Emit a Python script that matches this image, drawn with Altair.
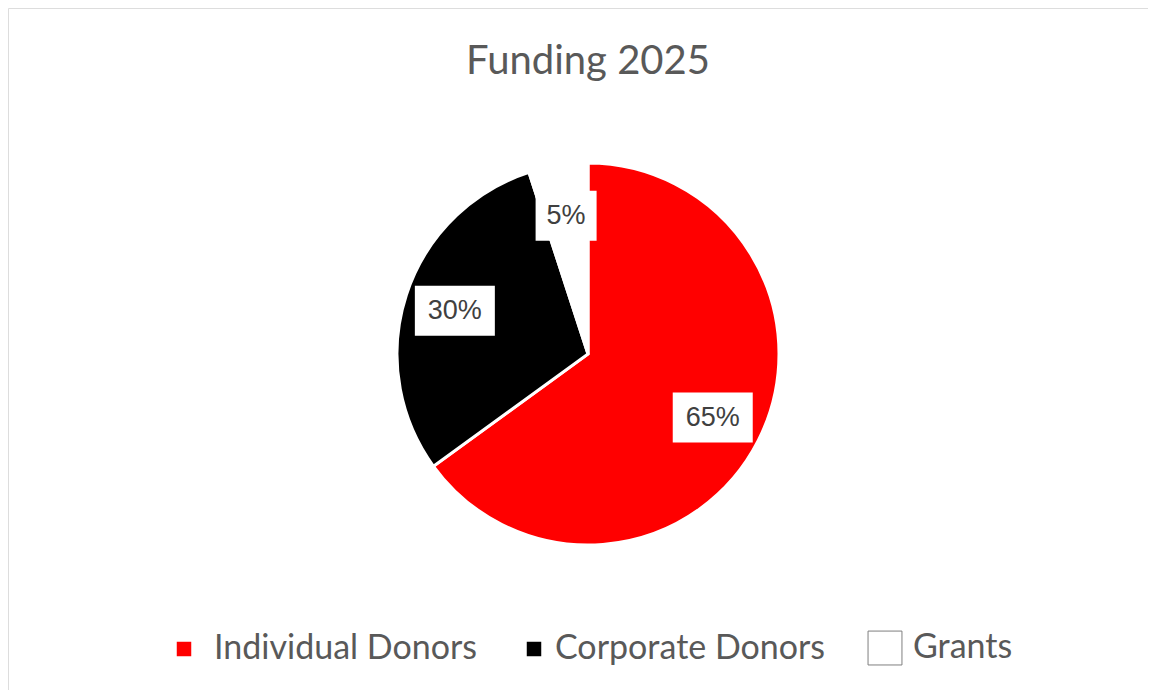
import altair as alt
import pandas as pd
import numpy as np

categories = ["Individual Donors", "Corporate Donors", "Grants"]
values = [65, 30, 5]
labels = ["65%", "30%", "5%"]
colors = ["#ff0000", "#000000", "#ffffff"]

# layout constants
W, H = 1140, 682
CX, CY, R = 580, 346, 191
LR = 140

df = pd.DataFrame({"category": categories, "value": values, "label": labels,
                   "order": list(range(len(categories)))})
total = df["value"].sum()
cum = df["value"].cumsum()
mid = (cum - df["value"] / 2) / total * 2 * np.pi
df["lx"] = CX + LR * np.sin(mid)
df["ly"] = CY - LR * np.cos(mid)
bw = 19 * df["label"].str.len() + 23
df["x1"] = df["lx"] - bw / 2
df["x2"] = df["lx"] + bw / 2
df["y1"] = df["ly"] - 25
df["y2"] = df["ly"] + 25


def build(extra):
    base = alt.Chart(df)
    leg = dict(title=None, orient="none", direction="horizontal",
               columns=3, legendX=159, legendY=623,
               symbolType="square", symbolSize=210,
               symbolStrokeColor="#7f7f7f", symbolStrokeWidth=1,
               labelFontSize=34, labelFont="Lato",
               labelColor="#595959", labelOffset=5,
               columnPadding=48, labelLimit=400)
    leg.update(extra)
    pie = base.mark_arc(outerRadius=R, stroke="white", strokeWidth=3).encode(
        theta=alt.Theta("value:Q", stack=True),
        order=alt.Order("order:Q"),
        color=alt.Color("category:N",
                        scale=alt.Scale(domain=categories, range=colors),
                        sort=categories,
                        legend=alt.Legend(**leg)),
        x=alt.value(CX),
        y=alt.value(CY),
    )
    boxes = base.mark_rect(fill="white").encode(
        x=alt.X("x1:Q", scale=None),
        x2="x2:Q",
        y=alt.Y("y1:Q", scale=None),
        y2="y2:Q",
    )
    texts = base.mark_text(font="Liberation Sans", fontSize=27, color="#404040",
                           baseline="middle", align="center").encode(
        x=alt.X("lx:Q", scale=None),
        y=alt.Y("ly:Q", scale=None),
        text="label:N",
    )
    ch = alt.layer(pie, boxes, texts).properties(
        width=W, height=H,
        title=alt.Title("Funding 2025", fontSize=40, font="Lato", color="#595959",
                        fontWeight="normal", anchor="middle", dy=78, dx=10),
        autosize=alt.AutoSizeParams(type="none"),
        padding=0,
    ).configure_view(stroke="#d4d4d4", strokeWidth=3).configure(background="white")
    ch.to_dict()
    return ch


big = "datum && datum.value === 'Grants'"
try:
    chart = build({
        "symbolSize": alt.ExprRef(expr=f"{big} ? 1150 : 210"),
        "symbolStrokeColor": alt.ExprRef(expr=f"{big} ? '#7f7f7f' : 'transparent'"),
        "labelOffset": alt.ExprRef(
            expr=f"{big} ? 11 : (datum && datum.value === 'Corporate Donors' ? 4 : 13)"),
        "columnPadding": 40,
    })
except Exception:
    chart = build({})

chart.save("out.html", embed_options={"renderer": "svg", "actions": False})
